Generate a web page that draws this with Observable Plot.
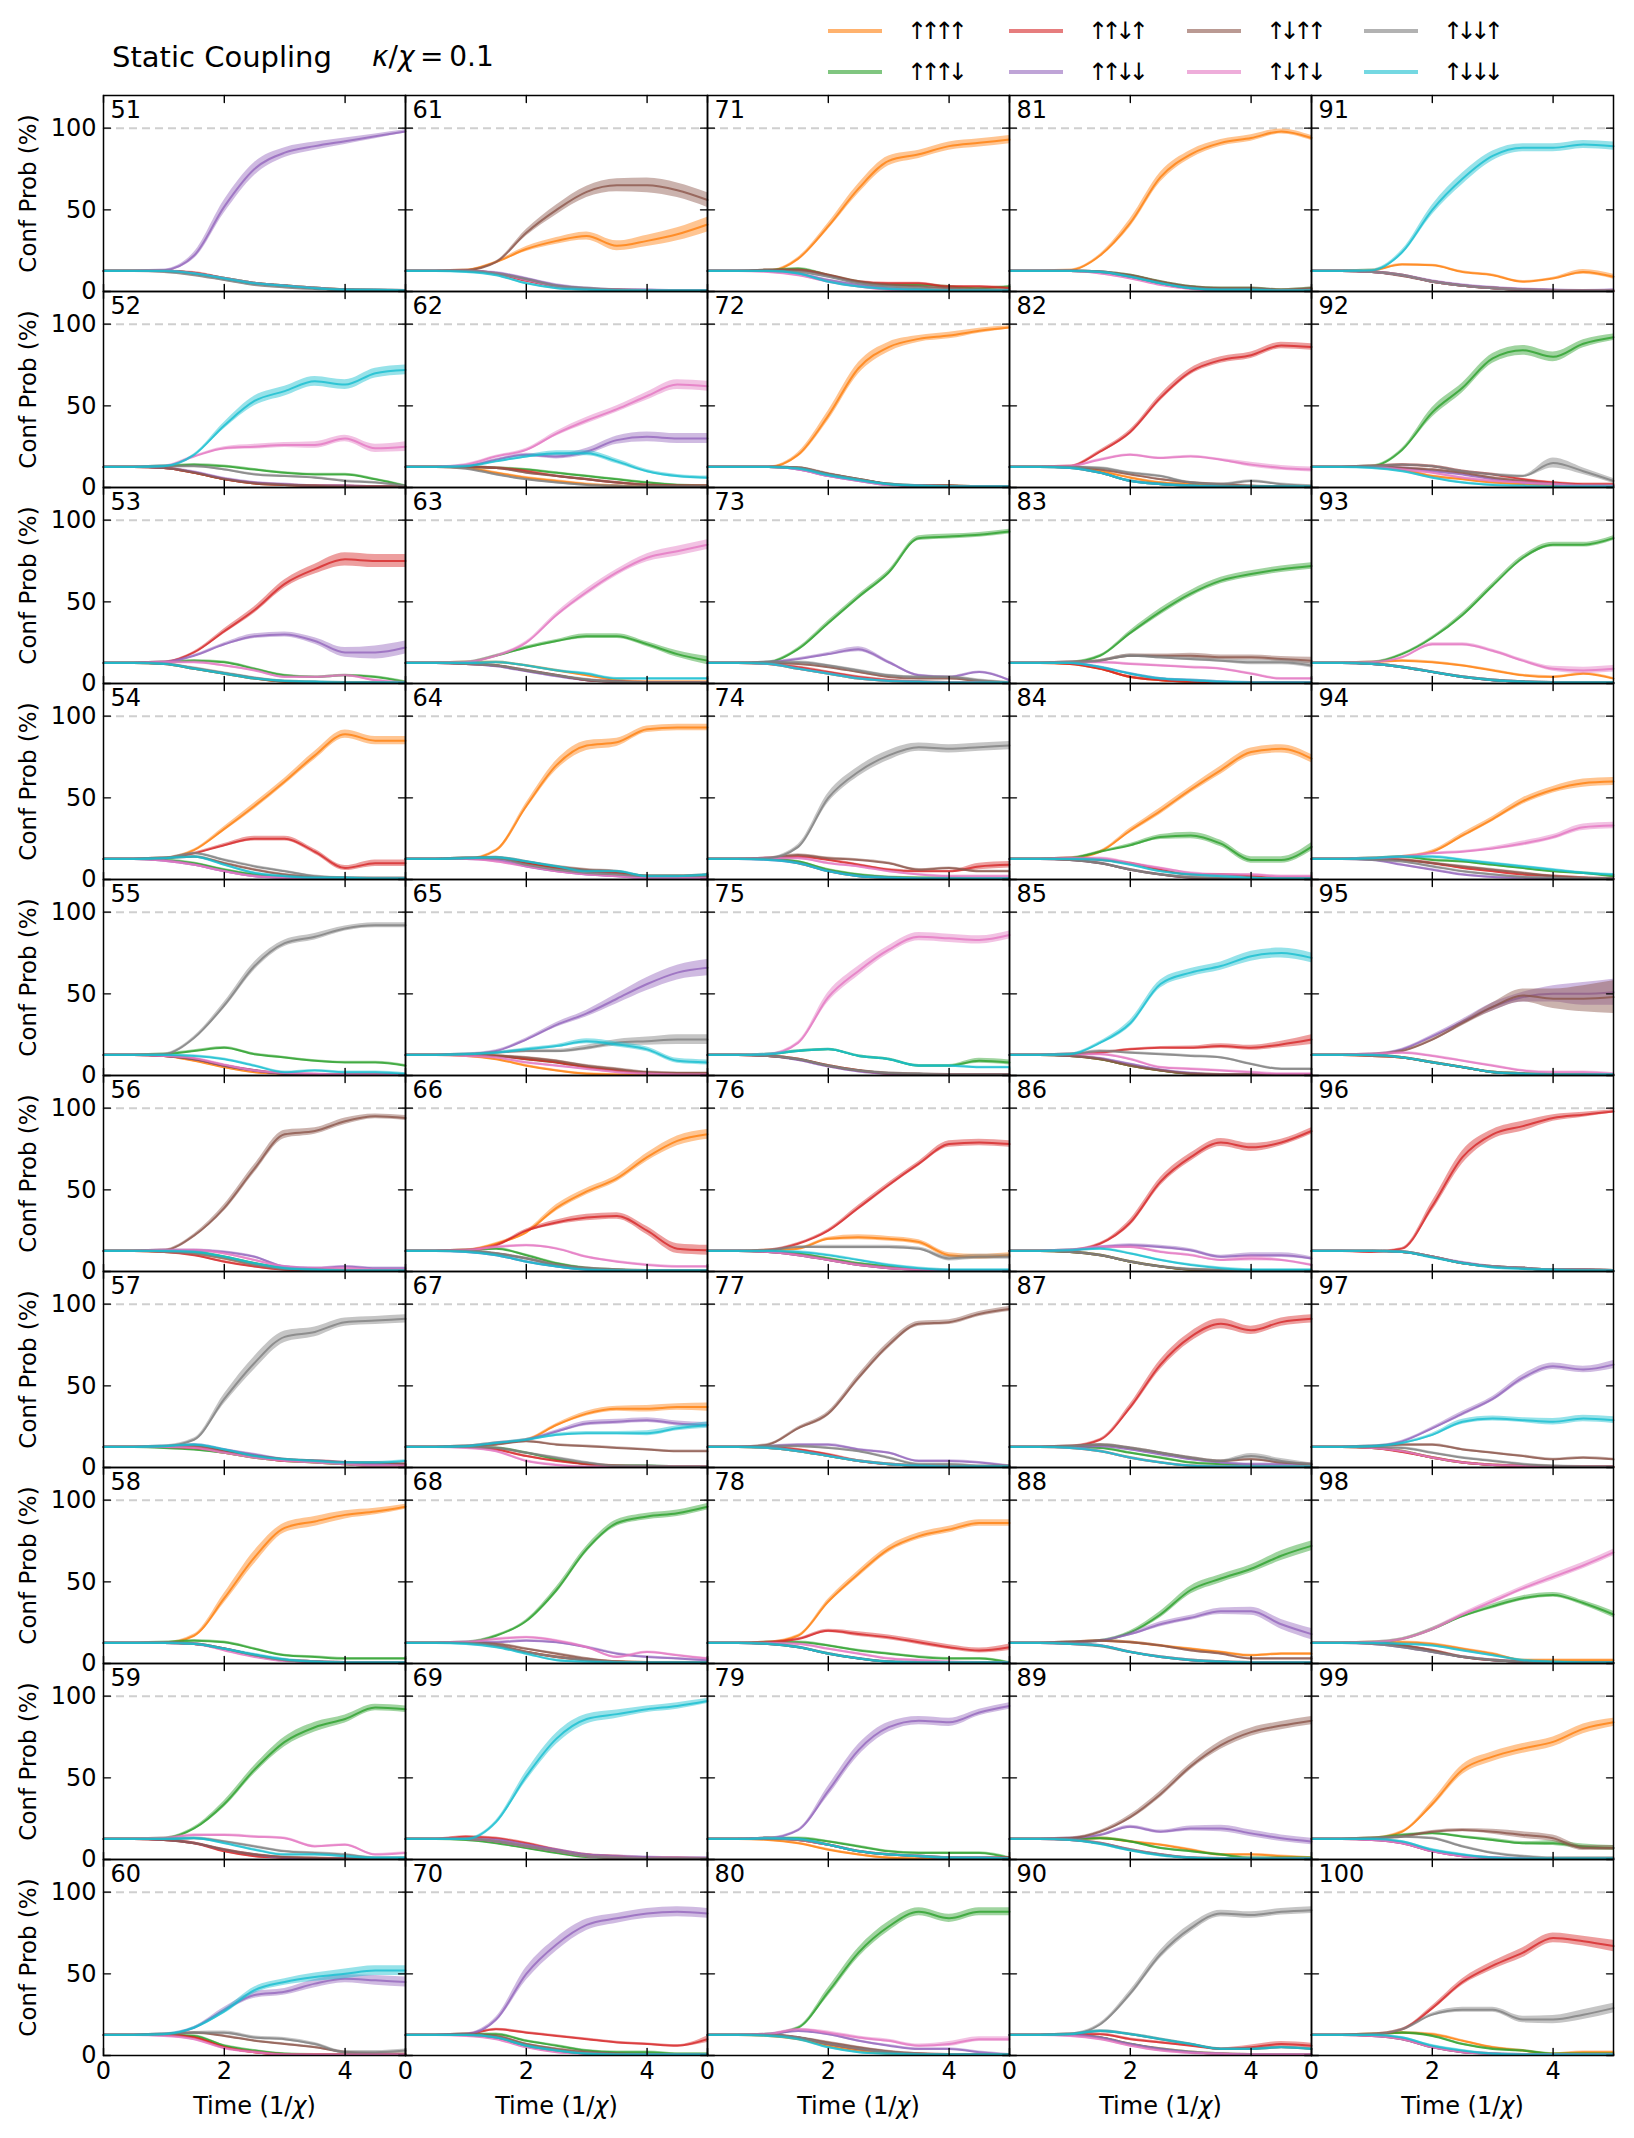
<!DOCTYPE html>
<html><head><meta charset="utf-8">
<script src="https://cdn.jsdelivr.net/npm/d3@7"></script>
<script src="https://cdn.jsdelivr.net/npm/@observablehq/plot@0.6"></script>
<style>
body{margin:0;background:#fff;font-family:"DejaVu Sans",sans-serif;}
#wrap{position:relative;width:1634px;}
#head{position:relative;height:80px;}
.t{position:absolute;white-space:nowrap;color:#000;transform:translateY(-50%);line-height:1;}
.leg{letter-spacing:-6.5px;}
.sw{position:absolute;height:4px;width:54px;opacity:0.6;transform:translateY(-50%);}
</style></head><body>
<div id="wrap"><div id="head"></div><div id="chart"></div></div>
<script>
// ---------------- data ----------------
const times = [0, 0.5, 1, 1.5, 2, 2.5, 3, 3.5, 4, 4.5, 5];
const panelIds = d3.range(51, 101);
const configs = ["↑↑↑↑", "↑↑↑↓", "↑↑↓↑", "↑↑↓↓", "↑↓↑↑", "↑↓↑↓", "↑↓↓↑", "↑↓↓↓"];
const colors = ["#ff7f0e", "#2ca02c", "#d62728", "#9467bd", "#8c564b", "#e377c2", "#7f7f7f", "#17becf"];
const yTicks = [0, 50, 100];
const xTicks = [0, 2, 4];
const title = "Static Coupling";
const subtitle = "κ/χ = 0.1";
const yLabel = "Conf Prob (%)";
const xLabel = "Time (1/χ)";

// each string: values (%) at the times above for panels 51..100; "v/e" = value / band half-width
const cfg_uuuu = [
"12.5 12.5 12.5 11 8 5 3.5 2 1 0.5 0.5",
"12.5 12.5 12 9 5 2.5 1.5 1 0.5 0.5 0.5",
"12.5 12.5 12 9 6 3 1 0.5 0.5 0.5 0.5",
"12.5 12.5 13 18 31/1.5 45/2 60/2 76/2.5 89/2.5 85/2.5 85/2.5",
"12.5 12.5 12 9 5 2 1 0.5 0.5 0.5 0.5",
"12.5 12.5 12 11 8 4 1.5 1 0.5 0.5 0.5",
"12.5 12.5 12.5 12 9 6 4 3 2 1 1",
"12.5 12.5 12.5 17/1 40/3 65/4 83/3 87/3 91/2.5 93/2 96/1.5",
"12.5 12.5 12 10 6 3 1 0.5 0.5 0.5 0.5",
"12.5 12.5 12.5 11 5 2 0.5 0.5 0.5 0.5 0.5",
"12.5 12.5 13 18 26/1.5 31/2 34/2.5 28/3 31/3.5 35/4 41/4.5",
"12.5 12.5 12 9 6 4 2 1 0.5 0.5 0.5",
"12.5 12.5 13 13 11 8 5 2 1 1 1",
"12.5 12.5 12.5 18 45/2 70/3 82/3 84/2.5 92/2 93/2 93/2",
"12.5 12.5 12 10 6 3 1 0.5 0.5 0.5 0.5",
"12.5 12.5 13 17 24/1 39/2 49/2 57/2 70/2.5 80/3 84/3",
"12.5 12.5 13 15 17 26/1 33/1.5 36/1.5 36/2 37/2 37/2.5",
"12.5 12.5 12.5 11 7 4 2 1 0.5 0.5 0.5",
"12.5 12.5 12.5 11 8 5 2 1 0.5 0.5 0.5",
"12.5 12.5 12.5 11 6 3 1 0.5 0.5 0.5 0.5",
"12.5 12.5 12.5 20/1 40/2 63/3 80/3 84/2.5 89/2.5 91/2.5 93/2.5",
"12.5 12.5 12.5 20/1.5 44/3 73/3.5 86/3 91/2 93/2 96/1.5 98/1",
"12.5 12.5 12 9 6 3 1.5 1 0.5 0.5 0.5",
"12.5 12.5 12.5 10 5 2 1 0.5 0.5 0.5 0.5",
"12.5 12.5 12 10 6 3 1 0.5 0.5 0.5 0.5",
"12.5 12.5 13 14 20/1 21/1.5 20/1.5 18/1.5 10/1.5 9/1.5 10/1.5",
"12.5 12.5 12 10 7 4 2 1 0.5 0.5 0.5",
"12.5 12.5 13 17 38/1.5 55/2 70/2 78/2 82/2 86/2 86/2",
"12.5 12.5 12 10 6 3 1 0.5 0.5 0.5 0.5",
"12.5 12.5 12 10 6 3 1 0.5 0.5 0.5 0.5",
"12.5 12.5 13 22/1 42/2.5 70/3 84/2.5 91/2 94/2 98/1.5 94/1.5",
"12.5 12.5 12.5 10 6 3 2 1 0.5 0.5 0.5",
"12.5 12.5 12 9 4 2 1 0.5 0.5 0.5 0.5",
"12.5 12.5 13 17 30/1.5 42/2 55/2 67/2.5 78/2.5 80/2.5 74/2.5",
"12.5 12.5 12 10 6 3 1 0.5 0.5 0.5 0.5",
"12.5 12.5 12 10 6 3 1 0.5 0.5 0.5 0.5",
"12.5 12.5 12 10 6 3 1 0.5 0.5 0.5 0.5",
"12.5 12.5 13 14 13 11 9 7 5 6 6",
"12.5 12.5 12.5 13 11 9 6 3 3 2 1",
"12.5 12.5 12.5 11 7 4 2 1 0.5 0.5 0.5",
"12.5 12.5 13 16.5 16 12 10 6 8 12/1.5 9/1.5",
"12.5 12.5 12.5 11 7 5 3 2 1 0.5 0.5",
"12.5 12.5 13 14 13 11 8 5 4 6 3",
"12.5 12.5 13 14 17/1 27/1.5 37/1.5 48/2 55/2 59/2.5 60/2.5",
"12.5 12.5 12 11 8 5 2 1 0.5 0.5 0.5",
"12.5 12.5 12.5 12 9 5 3 2 1 1 0.5",
"12.5 12.5 12 10 6 3 1.5 1 0.5 0.5 0.5",
"12.5 12.5 13 13 12 9 6 2 2 2 2",
"12.5 12.5 13 17 34/2 55/3 63/3 68/3 72/3 80/3 84/2.5",
"12.5 12.5 13 14 13 9 5 3 1 2 2"
];
const cfg_uuud = [
"12.5 12.5 12.5 11 8 5 3.5 2 1 0.5 0.5",
"12.5 12.5 13 14 13 11 9 8 8 5 1",
"12.5 12.5 13 14 13 9 5 4 5 4 1",
"12.5 12.5 12 10 6 3 1.5 1 0.5 0.5 0.5",
"12.5 12.5 13 15 17 13 11 9 8 8 6",
"12.5 12.5 12.5 12 9 5 2 1 0.5 0.5 0.5",
"12.5 12.5 12 11 9 6 4 3 2 1 1",
"12.5 12.5 13 14 13 9 5 4 3 3 3",
"12.5 12.5 13 19/1 34/2 55/2.5 72/3 81/3 86/2.5 93/2 92/2",
"12.5 12.5 12.5 12 6 3 1 0.5 0.5 0.5 0.5",
"12.5 12.5 12.5 11 7 3 1.5 1 0.5 0.5 0.5",
"12.5 12.5 12.5 12 11 9 7 5 3 1.5 1",
"12.5 12.5 13 17 22/1 26/1 29/1.5 29/1.5 24/1.5 18/2 14/2.5",
"12.5 12.5 13 13 10 7 5 4 2 2 2",
"12.5 12.5 12.5 12 10 8 5 3 1.5 1 1",
"12.5 12.5 13 14 10 5 2 1 0.5 0.5 0.5",
"12.5 12.5 12.5 12 9 5 2 1 1 0.5 0.5",
"12.5 12.5 13 17 26/1 45/2 70/2 86/2 90/2 92/2 96/2",
"12.5 12.5 12 10 7 4 1.5 1 0.5 0.5 0.5",
"12.5 12.5 13 13 9 6 3 2 2 1 1",
"12.5 12.5 13 14 10 6 4 4 3 2 3",
"12.5 12.5 12.5 12 8 5 2 1 1 0.5 0.5",
"12.5 12.5 13 21/1 37/1.5 53/1.5 68/1.5 89/1.5 90/1.5 91/1.5 93/1.5",
"12.5 12.5 12.5 11 6 3 1.5 1 1 0.5 0.5",
"12.5 12.5 13 15 16 12 10 6 6 9/1.5 8/1.5",
"12.5 12.5 12 11 8 5 3 1 0.5 0.5 0.5",
"12.5 12.5 12 10 7 4 2 1 0.5 0.5 0.5",
"12.5 12.5 13 13 11 8 6 4 3 3 0.5",
"12.5 12.5 13 13 11 8 5 4 4 4 1",
"12.5 12.5 13 17 39/2.5 63/3 79/3 88/2.5 84/2.5 88/2.5 88/2.5",
"12.5 12.5 12.5 12 10 6 3 2 2 1 2",
"12.5 12.5 12 9 4 2 1 0.5 0.5 0.5 0.5",
"12.5 12.5 13 17 31/1.5 44/2 55/2 63/2 67/2 70/2 72/2",
"12.5 12.5 13 17 21/1 26/1.5 27/2 22/2 12/2 12/2 20/2.5",
"12.5 12.5 12 10 6 3 1 0.5 0.5 0.5 0.5",
"12.5 12.5 12 10 6 3 1 0.5 0.5 0.5 0.5",
"12.5 12.5 12.5 12 9 6 3 2 1 0.5 0.5",
"12.5 12.5 13 14 19/1 30/2 45/2.5 52/2.5 58/2.5 66/3 72/3",
"12.5 12.5 12.5 13 11 7 5 3 1 1 1",
"12.5 12.5 12.5 11 7 4 2 1 0.5 0.5 0.5",
"12.5 12.5 12 10 6 3.5 2 1 0.5 0.5 0.5",
"12.5 12.5 13 23/1 46/3 61/3 79/3 84/3 80/3 88/2.5 92/2",
"12.5 12.5 13 18 28/1 42/1.5 60/1.5 77/1.5 85/1.5 85/1.5 89/1.5",
"12.5 12.5 13 14 12 11 9 7 5 4 2",
"12.5 12.5 12.5 11 8 5 2 1 0.5 0.5 0.5",
"12.5 12.5 12.5 12 9 5 3 2 1 1 0.5",
"12.5 12.5 12 10 6 3 1.5 1 0.5 0.5 0.5",
"12.5 12.5 13 15 21/1 29/1 35/1.5 40/1.5 42/1.5 37/1.5 30/2",
"12.5 12.5 13 15 16 14 12/1 10/1 10/1.5 8/1.5 7/1.5",
"12.5 12.5 13 14 12 7 4 3 1 1 1"
];
const cfg_uudu = [
"12.5 12.5 12.5 11.5 8 5 3.5 2 1 1 0.5",
"12.5 12.5 12 9 5 2.5 1.5 1 1 0.5 0.5",
"12.5 12.5 13 19 32/1.5 45/2 61/2.5 70/3 76/4 75/4 75/4",
"12.5 12.5 13 16 21/1 25/1.5 25/1.5 17/1.5 7/1.5 10/2 10/2",
"12.5 12.5 12 10 6 3 1 0.5 0.5 0.5 0.5",
"12.5 12.5 12 10 6 3 1 0.5 0.5 0.5 0.5",
"12.5 12.5 12.5 12 10 7 4 4 3 2 2",
"12.5 12.5 12.5 12 9 5 2 1 0.5 0.5 0.5",
"12.5 12.5 12 10 5 2 1 0.5 0.5 0.5 0.5",
"12.5 12.5 12.5 11 5 2 0.5 0.5 0.5 0.5 0.5",
"12.5 12.5 12.5 11 6.5 3 1.5 1 0.5 0.5 0.5",
"12.5 12.5 12.5 12 10 7 5 3 1.5 1 1",
"12.5 12.5 12 11 8 5 2 1 0.5 0.5 0.5",
"12.5 12.5 13 13 10 7 5 4 2 2 2",
"12.5 12.5 12.5 12 10 8 5 3 1.5 1 1",
"12.5 12.5 13 16 25/1 30/1.5 33/2 34/2 25/2.5 14/3 13/3",
"12.5 12.5 12.5 11 7 4 2 1 0.5 0.5 0.5",
"12.5 12.5 12.5 11 7 4 2 1 0.5 0.5 0.5",
"12.5 12.5 14 13 10 6 3 2 1 1 0.5",
"12.5 12.5 13 16 14 12 10 8 7 6 10/2",
"12.5 12.5 13 13 10 6 5 5 3 3 2",
"12.5 12.5 12.5 12 8 5 2 1 1 0.5 0.5",
"12.5 12.5 12 10 7 4 2 1 0.5 0.5 0.5",
"12.5 12.5 13 14 12 9 6 5 5 8/2 9/2",
"12.5 12.5 12 10 6 3 1 0.5 0.5 0.5 0.5",
"12.5 12.5 13 17 25/1 39/1.5 53/1.5 66/1.5 78/2 79/2 78/2",
"12.5 12.5 12.5 11 8 4 2 1 0.5 0.5 0.5",
"12.5 12.5 13 15 20/1 18/1.5 16/1.5 13/1.5 10/1.5 8/1.5 10/2",
"12.5 12.5 13 12 9 5 3 2 1 1 1",
"12.5 12.5 12.5 11 7 4 2 1 0.5 0.5 0.5",
"12.5 12.5 12.5 12 9 5 2 1 1 0.5 1",
"12.5 12.5 13 22/1 34/1.5 55/2 71/2 78/2 81/2 87/2 86/2",
"12.5 12.5 12 9 4 2 1 0.5 0.5 0.5 0.5",
"12.5 12.5 13 12 10 6 3 3 2 1 1",
"12.5 12.5 13 14 16 17 17/1 18/1.5 17/1.5 19/2 22/3",
"12.5 12.5 13 17 30/2 55/2.5 70/2.5 79/2.5 76/2.5 79/2 86/2",
"12.5 12.5 13 17 37/2 63/3 80/3 88/3 84/2.5 89/2.5 91/2.5",
"12.5 12.5 12 11 7 4 2 1 0.5 0.5 0.5",
"12.5 12.5 12 10 6 3 1 0.5 0.5 0.5 0.5",
"12.5 12.5 13 13 10 8 6 4 5/1.5 7/1.5 6/1.5",
"12.5 12.5 12 10 6 3.5 2 1 0.5 0.5 0.5",
"12.5 12.5 13 14 13 10 8 5 3 2 2",
"12.5 12.5 12 10 7 4 2 1 0.5 0.5 0.5",
"12.5 12.5 12.5 12 10 7 5 3 2 1 0.5",
"12.5 12.5 12 11 8 5 2 1 0.5 0.5 0.5",
"12.5 12.5 12 14 40/3 70/4 84/3 89/3 94/2 96/1.5 98/1",
"12.5 12.5 12 9.5 6 3 1.5 1 0.5 0.5 0.5",
"12.5 12.5 12.5 11 8 4 2 1 0.5 0.5 0.5",
"12.5 12.5 12 10 5 2 1 0.5 0.5 0.5 0.5",
"12.5 12.5 13 16 29/1.5 45/2 55/2.5 63/3 72/3 70/3 67/3.5"
];
const cfg_uudd = [
"12.5 12.5 13 22/2 52/4 75/4 85/3 89/2.5 92/2 95/1.5 98/1",
"12.5 12.5 12 9.5 5.5 3 2 1 1 0.5 0.5",
"12.5 12.5 13 17 24/1 29/1.5 30/1.5 26/2 19/3 19/4 22/4",
"12.5 12.5 11.5 9 5 2 1 0.5 0.5 0.5 0.5",
"12.5 12.5 12 10 6 3 1 0.5 0.5 0.5 0.5",
"12.5 12.5 13 13 12 9 3 2 3 2 2",
"12.5 12.5 13 14 11 8 5 4 3 2 2",
"12.5 12.5 12.5 12 9 5 2 1 0.5 0.5 0.5",
"12.5 12.5 12 10 6 3 1 0.5 0.5 0.5 0.5",
"12.5 12.5 13 17 28/1.5 37/2 39/2 44/2.5 47/2.5 46/3 45/3",
"12.5 12.5 12.5 11.5 8 4 2 1 1 0.5 0.5",
"12.5 12.5 13 17 20/1 19/1.5 22/2 29/2.5 31/3 30/3 30/3",
"12.5 12.5 12 10.5 7.5 4.5 2 1 0.5 0.5 0.5",
"12.5 12.5 12.5 12 8 5 3 2 1 1 1",
"12.5 12.5 13 15 22/1 31/1.5 38/2 47/3 56/4 63/4.5 66/5",
"12.5 12.5 12 10 6 3 1 0.5 0.5 0.5 0.5",
"12.5 12.5 13 15 17 22/1 27/1.5 28/1.5 29/1.5 27/1.5 26/1.5",
"12.5 12.5 13 13 14 13 10 6 4 3 2",
"12.5 12.5 12.5 12 9 6 3 2 1.5 1 1",
"12.5 12.5 13 22/1.5 50/4 68/4 80/3.5 84/3 87/3 88/3 87/3",
"12.5 12.5 12.5 11 7 4 2 1 0.5 0.5 0.5",
"12.5 12.5 12.5 11 7 4 1.5 1 0.5 0.5 0.5",
"12.5 12.5 13 15 18/1 21/1.5 13/1 5 4 7 2",
"12.5 12.5 12 10 5 2 1 0.5 0.5 0.5 0.5",
"12.5 12.5 12 9.5 5.5 2.5 1 0.5 0.5 0.5 0.5",
"12.5 12.5 12 10 7 4 2 1 0.5 0.5 0.5",
"12.5 12.5 13 14 14 11 9 4 4 3 1",
"12.5 12.5 12 10 6 3 1 0.5 0.5 0.5 0.5",
"12.5 12.5 13 18 42/3 67/3.5 81/3 85/2.5 84/2.5 90/2 94/2",
"12.5 12.5 13 15 13 9 6 4 4 2 0.5",
"12.5 12.5 12.5 12 9 5 2 1 1 0.5 0.5",
"12.5 12.5 12 9 4 2 1 0.5 0.5 0.5 0.5",
"12.5 12.5 12.5 10 6 3 2 1 0.5 0.5 0.5",
"12.5 12.5 12 10 6 3 1 0.5 0.5 0.5 0.5",
"12.5 12.5 12 10.5 7 3.5 1.5 0.5 0.5 0.5 0.5",
"12.5 12.5 13 15 16/1 15/1 13/1 9/1 10/1.5 10/1.5 8/1",
"12.5 12.5 12.5 13 11 8 5 3 2 2 2",
"12.5 12.5 13 14 18/1 24/1.5 28/1.5 32/2 32/2.5 24/3 18/3.5",
"12.5 12.5 13 15 20/1 17/1 19/1.5 19/2 16/2 13/2 11/2",
"12.5 12.5 12.5 11 7 4 2 1 0.5 0.5 0.5",
"12.5 12.5 12 10 6.5 4 2.5 1.5 1 0.5 1",
"12.5 12.5 12.5 12 10 8 5 3 2 1 1",
"12.5 12.5 12 10 7 4 2 1 0.5 0.5 0.5",
"12.5 12.5 12 9 6 3 1.5 1 0.5 0.5 0.5",
"12.5 12.5 13 16 24/1 33/1.5 42/2.5 48/3 50/5 50/7 51/8",
"12.5 12.5 12.5 12 9 5.5 3 2 1 1 0.5",
"12.5 12.5 13 16 24/1 33/1.5 42/1.5 55/2 62/2 60/2 63/2.5",
"12.5 12.5 12 10 7 4 2 1 0.5 0.5 0.5",
"12.5 12.5 12 10 5 2 1 0.5 0.5 0.5 0.5",
"12.5 12.5 12 10 5 2 1 0.5 0.5 0.5 0.5"
];
const cfg_uduu = [
"12.5 12.5 12.5 11 8 5 3.5 2 1 0.5 0.5",
"12.5 12.5 12 9 5 2.5 1.5 1 0.5 0.5 0.5",
"12.5 12.5 12 9 6 3 1 0.5 0.5 0.5 0.5",
"12.5 12.5 13 14 10 6 3 1.5 1 0.5 0.5",
"12.5 12.5 12 10 6 3 1 0.5 0.5 0.5 0.5",
"12.5 12.5 13 22/1 39/2 63/2.5 84/2.5 86/2 92/2 95/1.5 94/1.5",
"12.5 12.5 12.5 13 10 7 5 4 3 3 2",
"12.5 12.5 12.5 12 9 5 2 1 0.5 0.5 0.5",
"12.5 12.5 12 10 6 3 1.5 1 0.5 0.5 0.5",
"12.5 12.5 13 14 12 9 7 5 2 1 1",
"12.5 12.5 13 18 36/2 50/3 61/3.5 65/4 65/4.5 62/4.5 56/4.5",
"12.5 12.5 12.5 12 9 7 5 3 1.5 1 1",
"12.5 12.5 12 11 8 5 2 1 0.5 0.5 0.5",
"12.5 12.5 13 13.5 11 8 6 5 2 2 3",
"12.5 12.5 12.5 12 11 9 6 4 2 1.5 1.5",
"12.5 12.5 12.5 11 8 4 2 1 0.5 0.5 0.5",
"12.5 12.5 13 14 16 14 13 12 11 10 10",
"12.5 12.5 12.5 12 9 6 3 1 0.5 0.5 0.5",
"12.5 12.5 12.5 11 8 5 2 1 0.5 0.5 0.5",
"12.5 12.5 13 12 7 4 2 1 0.5 0.5 0.5",
"12.5 12.5 13 13 10 6 4 3 2 1 1",
"12.5 12.5 12.5 12 8.5 5 2 1 1 0.5 0.5",
"12.5 12.5 12.5 12 10 7 4 3 3 1.5 0.5",
"12.5 12.5 13 15 13 12 10 6 7 5 5",
"12.5 12.5 12 10 6 3 1.5 1 0.5 0.5 0.5",
"12.5 12.5 12 10 7 4 2 1 0.5 0.5 0.5",
"12.5 12.5 14 24/1 33/1.5 55/2 75/2 88/1.5 89/1.5 94/1.5 97/1.5",
"12.5 12.5 12 10 6 3 1 0.5 0.5 0.5 0.5",
"12.5 12.5 13 12 9 5 3 2 1 1 1",
"12.5 12.5 12.5 11 8 5 2.5 1 0.5 0.5 0.5",
"12.5 12.5 12.5 12 10 6 3 2 2 1 2",
"12.5 12.5 12.5 11 8 5 3 2 1 0.5 0.5",
"12.5 12.5 13 14 17/1 17/1 17/1.5 16/1.5 16/1.5 15/1.5 14/2",
"12.5 12.5 12 10 6 3 1 0.5 0.5 0.5 0.5",
"12.5 12.5 12 10 6 3 1 0.5 0.5 0.5 0.5",
"12.5 12.5 12 10 6 3 1 0.5 0.5 0.5 0.5",
"12.5 12.5 13 14 12 9 6 4 5 3 2",
"12.5 12.5 13 14 13 11 8 6 3 3 3",
"12.5 12.5 13 17 26/1.5 40/2 57/2 70/2.5 78/2.5 82/2.5 85/2.5",
"12.5 12.5 13 15 13 10 7 4 4 5 4",
"12.5 12.5 12 9.5 6 3.5 2 1 0.5 0.5 0.5",
"12.5 12.5 13 12 11 9 6 4 2 1 1",
"12.5 12.5 12 10 7 4 2 1 0.5 0.5 0.5",
"12.5 12.5 12.5 12 10 8 6 4 2 1 0.5",
"12.5 12.5 13 15 22/1 32/1.5 42/2.5 49/4 47/6 47/8 48/10",
"12.5 12.5 12.5 12 9 5 3 2 1 1 0.5",
"12.5 12.5 13 14 14 11 9 7 5 6 5",
"12.5 12.5 12.5 11 8 4 2 1 0.5 0.5 0.5",
"12.5 12.5 13 14 17 18/1 17/1.5 15/2 13/2 7/1.5 7/1.5",
"12.5 12.5 12 10 5 2 1 0.5 0.5 0.5 0.5"
];
const cfg_udud = [
"12.5 12.5 12.5 11 8 5 3.5 2 1 0.5 0.5",
"12.5 12.5 13 19 24/1 25/1.5 26/1.5 26/2 30/2 24/2.5 25/3",
"12.5 12.5 13 13 11 8 4 4 5 2 0.5",
"12.5 12.5 11.5 9 5 2 1 0.5 0.5 0.5 0.5",
"12.5 12.5 12 10.5 6.5 3 1.5 1 0.5 0.5 0.5",
"12.5 12.5 13 13 11 7 3 2 2 1 1",
"12.5 12.5 12.5 12 9 6 4 3 2 1 1",
"12.5 12.5 12.5 12 8 4 1.5 1 0.5 0.5 0.5",
"12.5 12.5 13 15 15 14 13 8 9 3 4",
"12.5 12.5 12 10 4.5 2 0.5 0.5 0.5 0.5 0.5",
"12.5 12.5 12.5 11 7 3 1.5 1 0.5 0.5 0.5",
"12.5 12.5 14 19 23/1 33/1.5 41/2 48/2 56/2.5 63/3 62/3",
"12.5 12.5 13 17 25/1 42/1.5 56/2 68/2 77/2.5 81/3 85/3",
"12.5 12.5 12.5 11 8 5 3 2 1 1 1",
"12.5 12.5 12 11 8 6 4 2 1 0.5 0.5",
"12.5 12.5 13 15 16 14 9 6 4 3 3",
"12.5 12.5 12 10 4 1.5 0.5 0.5 0.5 0.5 0.5",
"12.5 12.5 13 15 16 14 10 4 7 5 3",
"12.5 12.5 12.5 11 8 5 2 1 0.5 0.5 0.5",
"12.5 12.5 12 10 5 2 1 0.5 0.5 0.5 0.5",
"12.5 12.5 12 10 6 3 1 0.5 0.5 0.5 0.5",
"12.5 12.5 12.5 11 7 4 1.5 1 0.5 0.5 0.5",
"12.5 12.5 12 9 6 3 1.5 1 0.5 0.5 0.5",
"12.5 12.5 13 13 10 8 5 3 2 2 2",
"12.5 12.5 13 20/1 48/3 64/3 77/2.5 85/2.5 84/2.5 83/2.5 86/2.5",
"12.5 12.5 12 10 7 4 2 1 0.5 0.5 0.5",
"12.5 12.5 12 10 7 4 2 1 0.5 0.5 0.5",
"12.5 12.5 12.5 12 9 6 3 2 1 0.5 0.5",
"12.5 12.5 13 12 9 5 3 2 1 1 0.5",
"12.5 12.5 13 16 14/1 11/1 9/1 6/1 7/1.5 10/1.5 10/1.5",
"12.5 12.5 12.5 11 8 4 1.5 0.5 0.5 0.5 0.5",
"12.5 12.5 13 17 20 18 19 17 14/1.5 12/1.5 11/1.5",
"12.5 12.5 13 13 12 11 10 9 6 3 3",
"12.5 12.5 13 13 10 7 4 3 3 2 2",
"12.5 12.5 13 13 10 5 4 3 2 1 1",
"12.5 12.5 13 15 15 12 10 7 8/1.5 7 4",
"12.5 12.5 12 10 6 3 1 0.5 0.5 0.5 0.5",
"12.5 12.5 12 11 7 4 2 1 0.5 0.5 0.5",
"12.5 12.5 12 10 6 3 1 0.5 0.5 0.5 0.5",
"12.5 12.5 12 10 6 3 1.5 1 0.5 0.5 0.5",
"12.5 12.5 12 10 6 3.5 2 1 0.5 0.5 0.5",
"12.5 12.5 12.5 11 9 6 4 3 2 1 1",
"12.5 12.5 13 16 24/1 24/1 20/1 14/1 9/1.5 8/2 9/2",
"12.5 12.5 13 14 16 17 19/1 22/1.5 26/1.5 32/2 33/2",
"12.5 12.5 13 14 12 9 6 3 2 2 1",
"12.5 12.5 12.5 12 9 5 3 2 1 1 0.5",
"12.5 12.5 12 10 6 3 1.5 1 0.5 0.5 0.5",
"12.5 12.5 13 15 21/1 30/1 38/1.5 46/1.5 53/2 60/2 68/2",
"12.5 12.5 12 10 5 2 1 0.5 0.5 0.5 0.5",
"12.5 12.5 12 10 5 2 1 0.5 0.5 0.5 0.5"
];
const cfg_uddu = [
"12.5 12.5 12 10 7 4 2.5 1.5 1 0.5 0.5",
"12.5 12.5 13 13 11 8 7 6 4 3 1",
"12.5 12.5 12 9.5 6.5 3.5 1.5 1 0.5 0.5 0.5",
"12.5 12.5 13 16 12 8 5 2 1 1 1",
"12.5 12.5 13 23/1 43/2 67/2.5 81/2 85/2 90/1.5 92/1.5 92/1.5",
"12.5 12.5 12 11 8 4 1.5 1 0.5 0.5 0.5",
"12.5 12.5 13 17/1 42/3 64/4 80/3.5 83/3 89/2.5 90/2.5 91/2.5",
"12.5 12.5 12.5 12 9 5 2 1 0.5 0.5 0.5",
"12.5 12.5 12.5 13 11 8 5 4 3 1 1",
"12.5 12.5 13 14 14/1 11/1 10/1 7/1 2/1 2/1 3/1",
"12.5 12.5 12.5 11 7.5 3.5 2 1 0.5 0.5 0.5",
"12.5 12.5 11.5 8 5 3 1.5 1 0.5 0.5 0.5",
"12.5 12.5 12 11 8 5 2.5 1 0.5 0.5 0.5",
"12.5 12.5 13 13 9 6 4 3 2 2 2",
"12.5 12.5 13 14 15/1 15/1 17/1.5 20/2 21/2.5 22/3 22/3",
"12.5 12.5 12.5 11 8 4 2 1 0.5 0.5 0.5",
"12.5 12.5 12.5 12 9 6 3 1 1 0.5 0.5",
"12.5 12.5 12.5 11 7 4 2 1 0.5 0.5 0.5",
"12.5 12.5 12.5 11 8 5 2 1 0.5 0.5 0.5",
"12.5 12.5 12.5 11 6 3 1 0.5 0.5 0.5 0.5",
"12.5 12.5 12.5 12 9 5 3 2 1 1 0.5",
"12.5 12.5 12.5 12 8 5 2 1 0.5 0.5 0.5",
"12.5 12.5 13 13 11 8 5 4 4 2 0.5",
"12.5 12.5 13 20/1.5 50/3 66/3 76/3 81/2.5 80/2.5 81/2.5 82/2.5",
"12.5 12.5 12 10 6 3 1.5 1 0.5 0.5 0.5",
"12.5 12.5 13 15 15/1 15/1 15/1 14/1 8/1.5 9/1.5 9/1.5",
"12.5 12.5 13 13 12 10 6 2 2 1 1",
"12.5 12.5 12 10 6 3 1 0.5 0.5 0.5 0.5",
"12.5 12.5 12.5 12 9 5 3 2 1 0.5 0.5",
"12.5 12.5 12.5 11 7 4 2 1 0.5 0.5 0.5",
"12.5 12.5 12.5 12 9 5 2 1 1 0.5 1",
"12.5 12.5 12.5 12 9 7 3 2 4 2 1",
"12.5 12.5 13 14 17/1 16/1 15/1 14/1 13/1.5 13/1.5 11/1.5",
"12.5 12.5 12 10 6 3 1.5 1 0.5 0.5 0.5",
"12.5 12.5 13 15 14 13 12 11 7 4 4",
"12.5 12.5 12 10 6 3 1.5 1 0.5 0.5 0.5",
"12.5 12.5 13 14 12 9 6 4 7/1.5 4/1.5 2",
"12.5 12.5 12 10.5 7 4 2 1 0.5 0.5 0.5",
"12.5 12.5 12 10 6 3 1 0.5 0.5 0.5 0.5",
"12.5 12.5 13 19/1 38/2 62/2.5 78/2.5 87/2 86/2 88/2 89/2",
"12.5 12.5 12 10 6 3.5 2 1 0.5 0.5 0.5",
"12.5 12.5 13 14 13 10 8 7 15/3 10/2 4/1.5",
"12.5 12.5 12 10 7 4 2 1 0.5 0.5 0.5",
"12.5 12.5 12 11 8 5 3 1.5 1 0.5 0.5",
"12.5 12.5 12 11 8 5 2 1 0.5 0.5 0.5",
"12.5 12.5 12.5 12 9 5 3 2 1 1 0.5",
"12.5 12.5 12.5 12 9 6 4 2 1 0.5 0.5",
"12.5 12.5 12 10 7 4 2 1 0.5 0.5 0.5",
"12.5 12.5 13 14 13 8 4 2 1 1 1",
"12.5 12.5 13 16 25/1 28/1.5 28/1.5 22/2 22/2.5 25/3 29/3"
];
const cfg_uddd = [
"12.5 12.5 12.5 11 8 5 3.5 2 1 1 0.5",
"12.5 12.5 13 20 38/2 53/3 59/3 65/3 63/3 70/3 72/3",
"12.5 12.5 12 9 6 3 1.5 1 0.5 0.5 0.5",
"12.5 12.5 13 14 9 4 2 1 1 0.5 0.5",
"12.5 12.5 12.5 12 10 6 2 3 2 2 1",
"12.5 12.5 12.5 12 9 5 2 1 0.5 0.5 0.5",
"12.5 12.5 13 14 11 7 5 4 3 3 4",
"12.5 12.5 12.5 12 9 5.5 2.5 1 0.5 0.5 0.5",
"12.5 12.5 12.5 13 10 6 3 3 2 1 1",
"12.5 12.5 13 17 27/1.5 40/2 45/2 48/2.5 50/3 52/3 52/3",
"12.5 12.5 12 10 5 2 1 0.5 0.5 0.5 0.5",
"12.5 12.5 13 16 19/1 21/1.5 21/1.5 16/1.5 10/1 7/1 6/1",
"12.5 12.5 12.5 13 11 8 6 3 3 3 3",
"12.5 12.5 13 13.5 11 8 5 5 2 2 3",
"12.5 12.5 13 14 16/1 18/1 21/1.5 19/1.5 16/1.5 9/1.5 8/1.5",
"12.5 12.5 12 10 6 3 1 0.5 0.5 0.5 0.5",
"12.5 12.5 13 15 17 20/1 21/1 21/1 21/1.5 24/1.5 26/2",
"12.5 12.5 12 10 6 2 1 0.5 0.5 0.5 0.5",
"12.5 12.5 12.5 23/1 51/3 74/3.5 86/3 89/2.5 92/2 94/2 97/1.5",
"12.5 12.5 12.5 11 6 3 1 0.5 0.5 0.5 0.5",
"12.5 12.5 12.5 11 6 3 1.5 1 0.5 0.5 0.5",
"12.5 12.5 12.5 11.5 7.5 4.5 2 1 0.5 0.5 0.5",
"12.5 12.5 12 9 6 3 1.5 1 0.5 0.5 0.5",
"12.5 12.5 12 10 5 2 1 0.5 0.5 0.5 0.5",
"12.5 12.5 13 15 16 12 10 6 6 5 5",
"12.5 12.5 12.5 12 10 7 4 2 1 1 1",
"12.5 12.5 12 10 7 4 2 1 0.5 0.5 0.5",
"12.5 12.5 12 10 6 3 1 0.5 0.5 0.5 0.5",
"12.5 12.5 13 12.5 9 5 3 2 1 1 0.5",
"12.5 12.5 12 10 5 2 1 0.5 0.5 0.5 0.5",
"12.5 12.5 12.5 12 9 5 2 1 1 0.5 0.5",
"12.5 12.5 12 9 4 2 1 0.5 0.5 0.5 0.5",
"12.5 12.5 12.5 10 6 3 2 1 0.5 0.5 0.5",
"12.5 12.5 12.5 12 9 5 3 2 1 0.5 0.5",
"12.5 12.5 13 20/1 32/2 56/2.5 63/2.5 67/2.5 73/3 75/3 72/3",
"12.5 12.5 13 14 11 7 4 2 1 1 1",
"12.5 12.5 12 10 6 3 1 0.5 0.5 0.5 0.5",
"12.5 12.5 12 11 7 4 2 1 0.5 0.5 0.5",
"12.5 12.5 12 9.5 5.5 2.5 1 0.5 0.5 0.5 0.5",
"12.5 12.5 13 15 13 10 7 4 4 5 4",
"12.5 12.5 13 24/1.5 50/3 69/3.5 83/3 88/2.5 88/2.5 90/2.5 89/2.5",
"12.5 12.5 12 10 6 3 1.5 1 0.5 0.5 0.5",
"12.5 12.5 12 10 7 4 2 1 0.5 0.5 0.5",
"12.5 12.5 13 14 14 12 10 8 6 4 3",
"12.5 12.5 12.5 11 8 5 2 1 0.5 0.5 0.5",
"12.5 12.5 12.5 12 8.5 5 2.5 1.5 1 0.5 0.5",
"12.5 12.5 13 15 20/1 28/1.5 30/1.5 29/1.5 28/2 30/2 29/2",
"12.5 12.5 12.5 12 11 8 5 2 1 0.5 0.5",
"12.5 12.5 12.5 11 6 3 1 0.5 0.5 0.5 0.5",
"12.5 12.5 12.5 11 6 3 1 0.5 0.5 0.5 0.5"
];
const seriesByConfig = [cfg_uuuu, cfg_uuud, cfg_uudu, cfg_uudd, cfg_uduu, cfg_udud, cfg_uddu, cfg_uddd];

// ---------------- header (title + legend) ----------------
const head = document.getElementById("head");
function addText(txt, left, top, size, html, cls) {
  const s = document.createElement("div");
  s.className = "t" + (cls ? " " + cls : "");
  s.style.left = left + "px"; s.style.top = top + "px"; s.style.fontSize = size + "px";
  if (html) s.innerHTML = txt; else s.textContent = txt;
  head.appendChild(s);
  return s;
}
addText(title, 112, 57, 29);
addText(subtitle.replace("κ", "<i>κ</i>").replace("χ", "<i>χ</i>").replace(" = ", "\u2009=\u2009"), 372, 57, 28, true);
const legCols = [828, 1009, 1187, 1364];
const legRows = [31, 72];
configs.forEach((name, c) => {
  const col = Math.floor(c / 2), row = c % 2;
  const sw = document.createElement("div");
  sw.className = "sw";
  sw.style.left = legCols[col] + "px"; sw.style.top = legRows[row] + "px";
  sw.style.background = colors[c];
  head.appendChild(sw);
  addText(name, legCols[col] + 79, legRows[row], 24, false, "leg");
});

// ---------------- plot ----------------
function parseSeries(str) {
  return str.trim().split(/\s+/).map(tok => {
    const [v, e] = tok.split("/").map(Number);
    return {v, e: e === undefined ? 0.7 : e};
  });
}
const marks = [
  Plot.ruleY([100], {stroke: "#cfcfcf", strokeWidth: 2, strokeDasharray: "8,5"})
];
configs.forEach((name, c) => {
  const pts = [];
  seriesByConfig[c].forEach((str, i) => {
    parseSeries(str).forEach((p, k) => {
      pts.push({fx: Math.floor(i / 10), fy: i % 10, t: times[k], v: p.v,
                lo: Math.max(0, p.v - p.e), hi: p.v + p.e});
    });
  });
  marks.push(
    Plot.areaY(pts, {fx: "fx", fy: "fy", x: "t", y1: "lo", y2: "hi", fill: colors[c], fillOpacity: 0.45, curve: "monotone-x"}),
    Plot.lineY(pts, {fx: "fx", fy: "fy", x: "t", y: "v", stroke: colors[c], strokeOpacity: 0.8, strokeWidth: 2, curve: "monotone-x"})
  );
});
// inward ticks on all four sides of every panel
const tickShape = {draw(context, l) { context.moveTo(0, 0); context.lineTo(0, -l); }};
const tk = {length: 7, anchor: "start", shape: tickShape, stroke: "black", strokeWidth: 1.4};
marks.push(
  Plot.frame({stroke: "black", strokeWidth: 1.5}),
  Plot.vector(xTicks, {...tk, x: d => d, frameAnchor: "bottom", rotate: 0}),
  Plot.vector(xTicks, {...tk, x: d => d, frameAnchor: "top", rotate: 180}),
  Plot.vector(yTicks, {...tk, y: d => d, frameAnchor: "left", rotate: 90}),
  Plot.vector(yTicks, {...tk, y: d => d, frameAnchor: "right", rotate: -90}),
  Plot.axisX({anchor: "bottom", ticks: xTicks, tickFormat: d => String(d), tickSize: 0, tickPadding: 6,
    facetAnchor: "bottom", fontSize: 24, label: null, stroke: "none"}),
  Plot.axisY({anchor: "left", ticks: yTicks, tickFormat: d => String(d), tickSize: 0, tickPadding: 7,
    facetAnchor: "left", fontSize: 24, label: null, stroke: "none"}),
  Plot.text(panelIds, {fx: (d, i) => Math.floor(i / 10), fy: (d, i) => i % 10, text: d => String(d),
    frameAnchor: "top-left", textAnchor: "start", lineAnchor: "top", dx: 7, dy: 5, fontSize: 24}),
  Plot.text(d3.range(10), {fx: () => 0, fy: d => d, text: () => yLabel, frameAnchor: "left",
    rotate: -90, textAnchor: "middle", lineAnchor: "middle", dx: -75, fontSize: 23}),
  Plot.text(d3.range(5), {fx: d => d, fy: () => 9, text: () => xLabel, frameAnchor: "bottom",
    lineAnchor: "middle", dy: 51, fontSize: 24})
);
const chart = Plot.plot({
  width: 1634, height: 2051,
  marginLeft: 102, marginRight: 20, marginTop: 13, marginBottom: 75,
  style: {fontFamily: "DejaVu Sans", fontSize: "24px", background: "white", color: "black"},
  x: {domain: [0, 5]},
  y: {domain: [0, 120]},
  fx: {domain: d3.range(5), padding: 0, axis: null},
  fy: {domain: d3.range(10), padding: 0, axis: null},
  marks
});
chart.querySelectorAll("text").forEach(t => {
  if (t.textContent === xLabel) t.innerHTML = 'Time (1/<tspan font-style="italic">χ</tspan>)';
});
document.getElementById("chart").appendChild(chart);
</script></body></html>
